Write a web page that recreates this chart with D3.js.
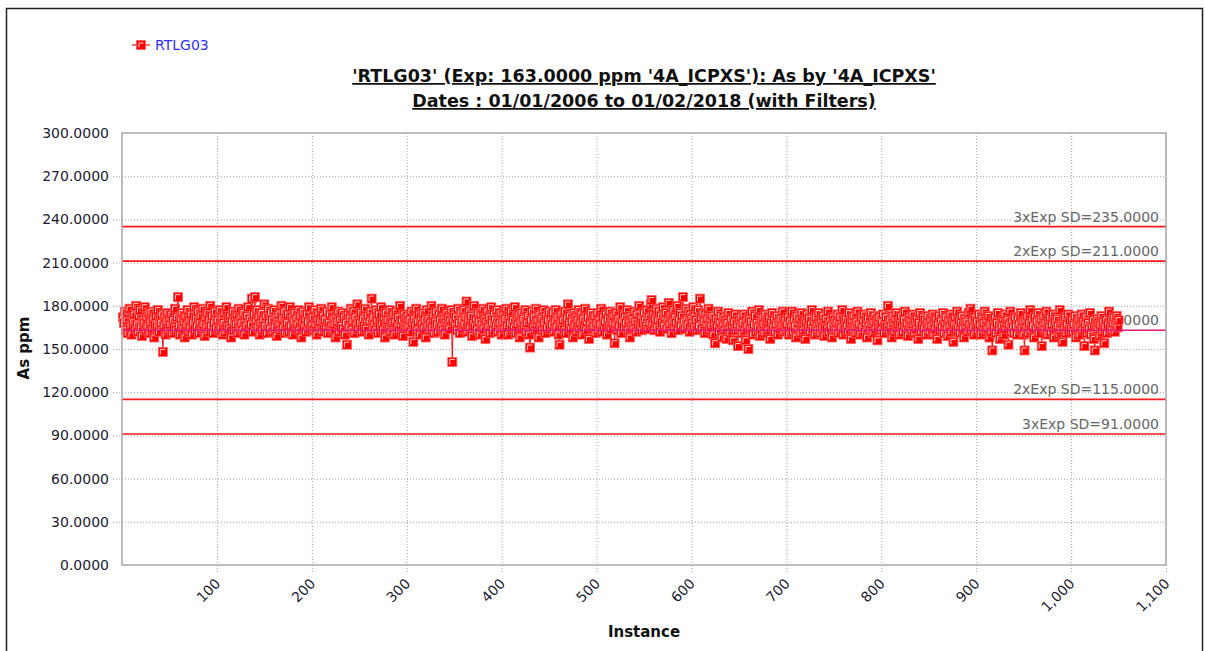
<!DOCTYPE html>
<html lang="en">
<head>
    <meta charset="UTF-8">
    <title>RTLG03 As ppm control chart</title>
    <script src="https://d3js.org/d3.v7.min.js"></script>
    <style>
        body { margin: 0; background: #fff; }
        svg text { font-family: "DejaVu Sans", Verdana, sans-serif; }
    </style>
</head>
<body>
    <svg id="chart"></svg>

    <script>
        // tick values for both axes
        const xTickValues = [100, 200, 300, 400, 500, 600, 700, 800, 900, 1000, 1100];
        const yTickValues = [0, 30, 60, 90, 120, 150, 180, 210, 240, 270, 300];

        // expected value and SD limits
        const expValue = 163;
        const limitValues = [235, 211, 115, 91];
        const limitLabels = ["3xExp SD=235.0000", "2xExp SD=211.0000", "2xExp SD=115.0000", "3xExp SD=91.0000"];

        // As ppm per instance (1..1050)
        const asPpm = [
            172,168,176,163,170,161,175,178,166,160,171,169,174,164,180,167,162,173,177,165,159,170,168,179,163,172,166,175,161,169,176,164,171,158,167,173,165,177,162,170,168,174,148,166,172,160,169,175,163,171,
            167,174,161,170,165,178,163,172,186,166,160,171,175,164,169,158,173,167,177,162,170,165,174,160,168,179,163,171,166,176,161,169,173,164,178,167,159,172,165,175,162,170,180,166,173,161,168,176,164,171,
            170,163,177,165,172,160,168,175,162,179,166,171,164,173,158,169,176,163,170,167,174,161,178,165,172,168,163,175,160,170,166,173,179,164,171,167,185,162,174,186,169,177,165,172,160,168,175,163,170,181,
            166,173,161,178,168,164,175,170,162,177,165,172,159,169,174,167,163,180,171,165,176,161,170,168,174,162,179,166,172,160,169,175,164,171,167,177,163,173,158,168,176,165,171,162,174,169,179,164,170,166,
            172,163,177,167,160,171,175,165,169,178,162,173,166,170,164,176,161,168,174,165,179,163,171,167,158,173,169,176,162,170,166,175,164,172,160,168,153,174,165,171,178,163,169,176,161,172,167,181,164,170,
            168,175,162,171,166,178,164,170,173,160,169,176,185,165,172,167,163,177,170,161,174,166,179,168,163,172,158,175,167,170,164,177,162,171,168,174,160,169,176,165,172,163,180,167,170,159,174,166,171,164,
            173,165,170,162,176,168,155,171,166,178,163,169,174,160,172,167,175,164,170,158,177,166,171,163,168,180,165,173,161,169,176,167,162,174,170,165,178,163,171,160,168,175,166,172,164,170,177,141,169,174,
            166,172,163,178,168,161,175,170,164,177,167,172,183,162,170,176,165,173,159,168,180,166,171,163,175,169,160,174,167,178,164,171,157,169,176,165,172,161,179,168,163,174,170,166,177,162,171,168,175,160,
            169,174,164,171,178,166,160,173,168,176,163,170,165,179,161,172,167,174,158,169,175,164,171,166,177,162,168,173,160,151,170,176,165,172,163,178,167,170,158,174,166,171,163,177,168,161,173,165,170,176,
            164,171,167,175,162,169,177,165,172,160,153,168,174,166,170,163,176,161,171,181,167,173,164,169,158,175,166,172,162,170,177,164,168,174,160,171,165,178,163,169,172,157,167,175,164,170,166,173,161,168,
            175,163,170,167,178,162,172,165,169,174,160,171,166,176,164,170,168,173,154,167,175,163,171,166,179,161,169,174,165,172,168,177,163,170,158,173,166,171,164,176,169,162,174,167,180,165,171,163,168,175,
            170,166,177,164,172,168,181,184,167,174,163,171,178,165,170,176,162,173,168,179,166,172,175,164,170,182,167,174,161,169,177,165,172,168,180,163,171,175,166,173,186,169,164,178,170,167,176,162,174,171,
            168,179,165,173,170,163,177,166,185,172,164,175,169,161,174,167,171,178,163,170,166,173,160,168,154,171,165,176,162,169,173,158,166,172,163,170,157,168,175,164,161,171,166,156,169,174,163,167,152,170,
            165,172,161,168,174,163,156,170,166,150,171,164,169,176,160,167,173,162,168,165,177,159,170,164,172,167,161,174,166,169,163,171,157,168,175,165,170,162,167,173,160,169,164,171,166,176,162,168,170,163,
            167,172,160,169,165,176,162,170,166,158,173,164,168,171,161,175,166,163,170,157,168,174,165,171,162,167,177,164,169,160,172,166,163,175,168,161,170,165,173,159,167,171,164,176,162,169,166,158,172,165,
            170,163,168,174,161,167,172,165,177,160,169,164,171,166,162,175,168,157,170,163,173,166,161,169,176,164,167,160,172,165,170,174,162,168,158,171,166,163,175,167,161,169,173,164,170,156,168,172,165,163,
            169,174,161,167,172,165,180,163,170,166,158,173,168,162,171,175,164,167,160,169,173,166,162,170,176,164,168,159,172,165,170,163,174,167,161,169,164,171,157,168,175,162,166,172,164,170,160,167,173,165,
            162,170,166,174,160,168,164,171,157,167,173,163,169,165,175,161,168,172,164,159,170,166,174,162,169,155,167,172,163,176,165,170,161,168,173,164,158,171,166,169,162,175,167,178,163,170,165,160,172,166,
            169,163,174,167,160,171,165,168,176,162,170,164,173,158,167,162,149,170,165,172,161,168,175,163,157,169,166,171,160,174,164,168,170,153,167,176,162,169,165,161,172,166,160,171,167,163,175,164,169,160,
            149,170,165,173,161,168,177,163,170,166,158,172,164,169,175,161,167,171,152,166,173,163,168,176,160,170,165,172,162,167,174,158,169,164,171,166,160,177,163,168,155,170,165,172,161,167,174,163,169,164,
            170,162,167,173,158,168,165,171,160,166,174,163,169,152,167,172,161,168,164,175,160,166,170,157,149,165,171,163,168,159,167,173,162,169,154,165,170,161,167,176,164,170,163,168,172,162,167,173,165,170
        ];

        const margin = { top: 133, right: 39, bottom: 86, left: 122 };
        const W = 1205, H = 651;
        const width = W - margin.left - margin.right;
        const height = H - margin.top - margin.bottom;

        const root = d3.select("#chart")
            .attr("width", W)
            .attr("height", H);

        // outer border
        root.append("rect")
            .attr("x", 6.5).attr("y", 8.5)
            .attr("width", W - 9).attr("height", H + 20)
            .attr("fill", "none")
            .attr("stroke", "#222")
            .attr("stroke-width", 1.5);

        // legend
        const legend = root.append("g").attr("transform", "translate(132, 45)");
        legend.append("line")
            .attr("x1", 0).attr("x2", 18)
            .attr("stroke", "#ee1111").attr("stroke-width", 1.2);
        legend.append("rect")
            .attr("x", 4.5).attr("y", -4.5).attr("width", 9).attr("height", 9)
            .attr("fill", "#ff0000").attr("stroke", "#ff5c5c").attr("stroke-width", 0.8);
        legend.append("path")
            .attr("d", "M7,2.5V-2H11.5")
            .attr("fill", "none").attr("stroke", "#ffcccc").attr("stroke-width", 1);
        legend.append("text")
            .attr("x", 23).attr("dy", "0.35em")
            .style("font-size", "14px")
            .attr("fill", "#3030ff")
            .text("RTLG03");

        // title
        const title = root.append("text")
            .attr("text-anchor", "middle")
            .style("font-size", "17.5px")
            .style("font-weight", "bold")
            .attr("fill", "#111")
            .attr("text-decoration", "underline");
        title.append("tspan").attr("x", margin.left + width / 2).attr("y", 82)
            .text("'RTLG03' (Exp: 163.0000 ppm '4A_ICPXS'): As by '4A_ICPXS'");
        title.append("tspan").attr("x", margin.left + width / 2).attr("y", 107)
            .text("Dates : 01/01/2006 to 01/02/2018 (with Filters)");

        const svg = root.append("g")
            .attr("transform", `translate(${margin.left}, ${margin.top})`);

        const x = d3.scaleLinear().domain([0, 1100]).range([0, width]);
        const y = d3.scaleLinear().domain([0, 300]).range([height, 0]);

        // dotted grid
        svg.selectAll(".ygrid")
            .data(yTickValues.filter(v => v > 0 && v < 300))
            .enter().append("line")
            .attr("x1", -9).attr("x2", width)
            .attr("y1", d => y(d) + 0.5).attr("y2", d => y(d) + 0.5)
            .attr("stroke", "#a0a0a0").attr("stroke-dasharray", "1,2");

        svg.selectAll(".xgrid")
            .data(xTickValues)
            .enter().append("line")
            .attr("x1", d => x(d) + 0.5).attr("x2", d => x(d) + 0.5)
            .attr("y1", 0).attr("y2", height + 8)
            .attr("stroke", "#a0a0a0").attr("stroke-dasharray", "1,2");

        // y tick labels
        svg.selectAll(".ylab")
            .data(yTickValues)
            .enter().append("text")
            .attr("x", -13)
            .attr("y", d => y(d))
            .attr("dy", "0.36em")
            .attr("text-anchor", "end")
            .style("font-size", "14px")
            .attr("fill", "#1c1c30")
            .text(d => d3.format(".4f")(d));

        // x tick labels, rotated
        svg.selectAll(".xlab")
            .data(xTickValues)
            .enter().append("text")
            .attr("transform", d => `translate(${x(d) + 1}, ${height + 16}) rotate(-45)`)
            .attr("text-anchor", "end")
            .attr("dy", "0.35em")
            .style("font-size", "14px")
            .attr("fill", "#1c1c30")
            .text(d => d3.format(",")(d));

        // axis titles
        root.append("text")
            .attr("x", margin.left + width / 2).attr("y", 637)
            .attr("text-anchor", "middle")
            .style("font-size", "15px").style("font-weight", "bold")
            .attr("fill", "#111")
            .text("Instance");

        root.append("text")
            .attr("transform", "translate(29, 348) rotate(-90)")
            .attr("text-anchor", "middle")
            .style("font-size", "15px").style("font-weight", "bold")
            .attr("fill", "#111")
            .text("As ppm");

        // SD limit lines
        svg.selectAll(".limit")
            .data(limitValues)
            .enter().append("line")
            .attr("x1", 0).attr("x2", width)
            .attr("y1", d => y(d)).attr("y2", d => y(d))
            .attr("stroke", "#ff1a1a").attr("stroke-width", 1.6);

        svg.selectAll(".limitlab")
            .data(limitValues)
            .enter().append("text")
            .attr("x", width - 7)
            .attr("y", d => y(d) - 5)
            .attr("text-anchor", "end")
            .style("font-size", "14px")
            .attr("fill", "#666")
            .text((d, i) => limitLabels[i]);

        svg.append("text")
            .attr("x", width - 7)
            .attr("y", y(expValue) - 5)
            .attr("text-anchor", "end")
            .style("font-size", "14px")
            .attr("fill", "#666")
            .text("Exp=163.0000");

        // series line
        const line = d3.line()
            .x((d, i) => x(i + 1))
            .y(d => y(d));

        svg.append("path")
            .datum(asPpm)
            .attr("d", line)
            .attr("fill", "none")
            .attr("stroke", "#ee1111")
            .attr("stroke-width", 1);

        // square markers
        const pts = svg.selectAll(".pt")
            .data(asPpm)
            .enter().append("g")
            .attr("transform", (d, i) => `translate(${x(i + 1)}, ${y(d)})`);

        pts.append("rect")
            .attr("x", -4.5).attr("y", -4.5)
            .attr("width", 9).attr("height", 9)
            .attr("fill", "#ff0000")
            .attr("stroke", "#ff5c5c")
            .attr("stroke-width", 0.8);

        pts.append("path")
            .attr("d", "M-2.5,2.5V-2.5H2.5")
            .attr("fill", "none")
            .attr("stroke", "#ffcccc")
            .attr("stroke-width", 1);

        // expected value line over the points
        svg.append("line")
            .attr("x1", 0).attr("x2", width)
            .attr("y1", y(expValue)).attr("y2", y(expValue))
            .attr("stroke", "#e0187a").attr("stroke-width", 1.6);

        // plot frame
        svg.append("rect")
            .attr("width", width).attr("height", height)
            .attr("fill", "none")
            .attr("stroke", "#a9a9a9")
            .attr("stroke-width", 1.5);
    </script>
</body>
</html>
